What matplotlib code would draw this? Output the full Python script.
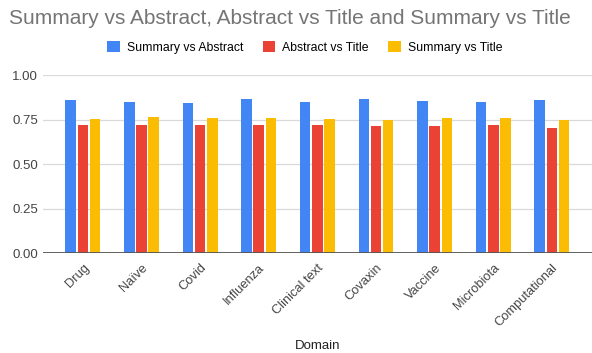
import matplotlib
matplotlib.use("Agg")
import matplotlib.pyplot as plt
import numpy as np

plt.rcParams['font.family'] = ['Liberation Sans', 'DejaVu Sans']

domains = ["Drug", "Naïve", "Covid", "Influenza", "Clinical text", "Covaxin",
           "Vaccine", "Microbiota", "Computational"]
summary_vs_abstract = [0.860, 0.849, 0.841, 0.865, 0.847, 0.864, 0.852, 0.847, 0.858]
abstract_vs_title = [0.720, 0.720, 0.720, 0.720, 0.720, 0.714, 0.714, 0.720, 0.703]
summary_vs_title = [0.755, 0.766, 0.760, 0.760, 0.755, 0.748, 0.760, 0.760, 0.748]
series_names = ["Summary vs Abstract", "Abstract vs Title", "Summary vs Title"]
colors = ["#4285F4", "#EA4335", "#FBBC04"]
y_ticks = [0.0, 0.25, 0.5, 0.75, 1.0]

fig = plt.figure(figsize=(5.92, 3.53), dpi=100)
ax = fig.add_axes([0.0726, 0.2824, 0.927, 0.505])

x = np.arange(len(domains))
bar_w = 0.18
step = 0.208
series = [summary_vs_abstract, abstract_vs_title, summary_vs_title]
handles = []
for i, (vals, c, name) in enumerate(zip(series, colors, series_names)):
    h = ax.bar(x + (i - 1) * step, vals, width=bar_w, color=c, label=name, zorder=3)
    handles.append(h)

ax.set_xlim(-0.68, len(domains) - 1 + 0.68)
ax.set_ylim(0, 1.0)
ax.set_yticks(y_ticks)
ax.set_yticklabels([f"{t:.2f}" for t in y_ticks], fontsize=9.5, color="#444444")
ax.set_xticks(x)
ax.set_xticklabels(domains, rotation=45, ha="right", rotation_mode="anchor",
                   fontsize=9.3, color="#444444")
ax.tick_params(axis="y", length=0, pad=3.5)
ax.tick_params(axis="x", length=0, pad=6)
ax.grid(axis="y", color="#d9d9d9", linewidth=0.9, zorder=0)
ax.axhline(0, color="#555555", linewidth=1.3, zorder=4)
for s in ax.spines.values():
    s.set_visible(False)

fig.text(318 / 592, 1 - 346 / 353, "Domain", ha="center", va="center",
         fontsize=9.5, color="#222222")

fig.text(0.49, 0.949, "Summary vs Abstract, Abstract vs Title and Summary vs Title",
         ha="center", va="center", fontsize=15, color="#757575")
fig.legend(handles=handles, labels=series_names, loc="center", ncol=3,
           bbox_to_anchor=(0.515, 0.866), frameon=False, fontsize=8.8,
           handlelength=1.0, handleheight=1.0, handletextpad=0.6,
           columnspacing=1.6)

fig.savefig("out.png", dpi=100)
